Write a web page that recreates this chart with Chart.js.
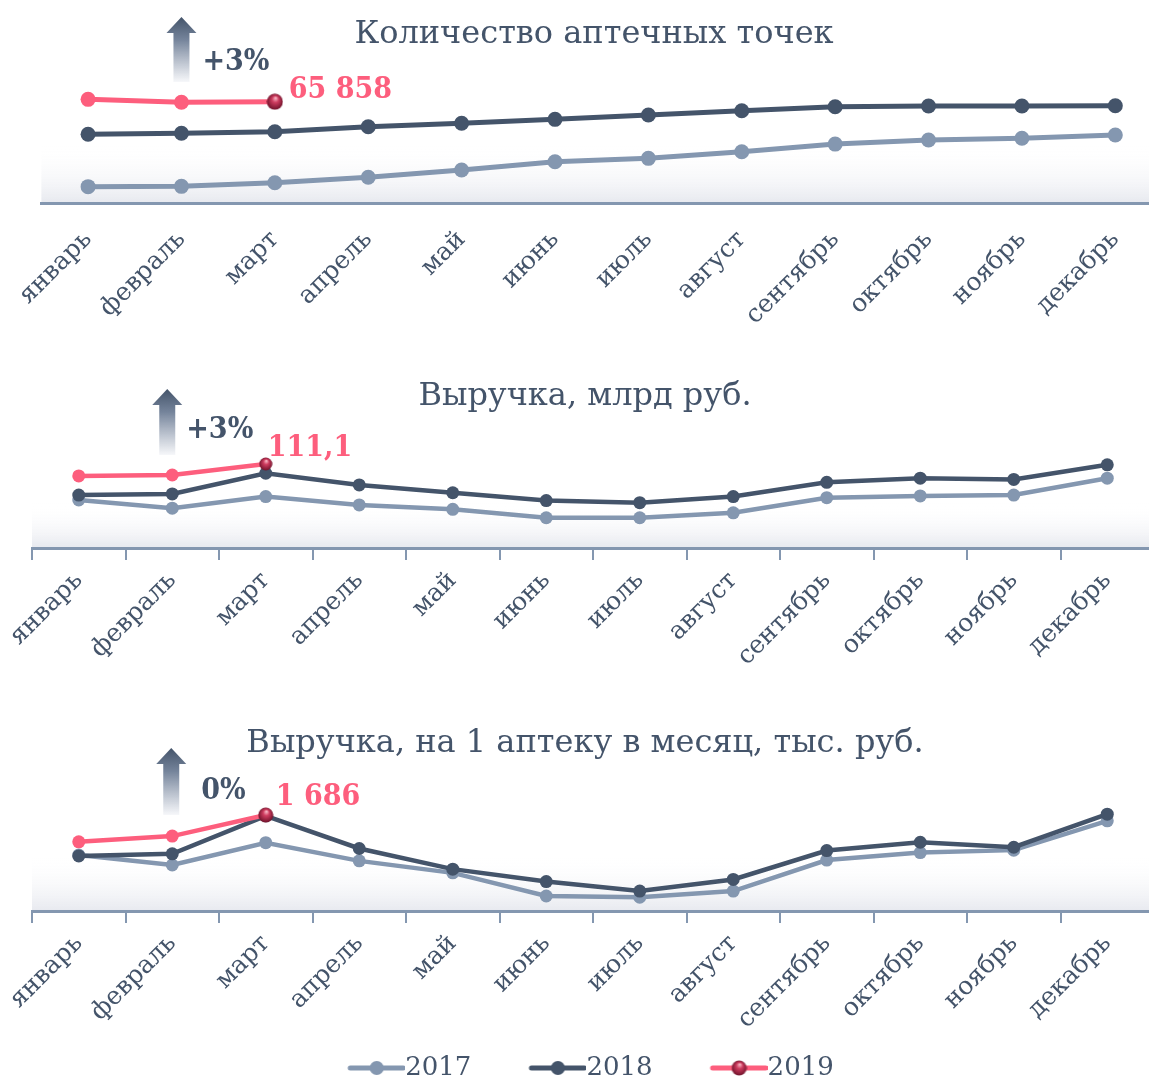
<!DOCTYPE html>
<html lang="ru">
<head>
<meta charset="utf-8">
<script src="https://cdn.jsdelivr.net/npm/chart.js@4.4.1/dist/chart.umd.min.js"></script>
<style>
    html, body { margin: 0; padding: 0; background: #fff; width: 1149px; height: 1081px; overflow: hidden; }
    canvas { position: absolute; left: 0; }
</style>
</head>
<body>
<canvas id="chartCount" width="1200" height="330" style="top:0"></canvas>
<canvas id="chartRevenue" width="1200" height="355" style="top:345px"></canvas>
<canvas id="chartPerPharmacy" width="1200" height="381" style="top:700px"></canvas>
<canvas id="chartLegend" width="1149" height="150" style="top:997px"></canvas>
<script>
// Months on the x axis
const months = ["январь", "февраль", "март", "апрель", "май", "июнь", "июль", "август", "сентябрь", "октябрь", "ноябрь", "декабрь"];
const years = ["2017", "2018", "2019"];

// Количество аптечных точек
const pharmacies2017 = [60430, 60450, 60680, 61030, 61490, 62020, 62240, 62660, 63150, 63410, 63520, 63730];
const pharmacies2018 = [63780, 63840, 63940, 64260, 64480, 64730, 65010, 65280, 65540, 65580, 65580, 65600];
const pharmacies2019 = [66010, 65820, 65858];

// Выручка, млрд руб.
const revenue2017 = [98.7, 95.9, 99.9, 97.0, 95.5, 92.6, 92.6, 94.3, 99.5, 100.1, 100.4, 106.2];
const revenue2018 = [100.4, 100.8, 107.9, 103.9, 101.2, 98.5, 97.8, 99.9, 104.8, 106.2, 105.8, 110.8];
const revenue2019 = [107.0, 107.3, 111.1];

// Выручка на 1 аптеку в месяц, тыс. руб.
const perPharmacy2017 = [1589, 1565, 1619, 1575, 1546, 1490, 1487, 1502, 1577, 1595, 1601, 1672];
const perPharmacy2018 = [1587, 1592, 1684, 1605, 1555, 1525, 1502, 1530, 1600, 1620, 1608, 1688];
const perPharmacy2019 = [1621, 1635, 1686];

// Growth labels and callouts for March 2019
const growthLabels = ["+3%", "+3%", "0%"];
const marchLabels = ["65 858", "111,1", "1 686"];
const panelTitles = ["Количество аптечных точек", "Выручка, млрд руб.", "Выручка, на 1 аптеку в месяц, тыс. руб."];

const FONT = "'DejaVu Serif', serif";
const FONT_BOLD = "'DejaVu Serif Condensed', 'DejaVu Serif', serif";
const TEXT = "#44546a";
const C2017 = "#8497b0";
const C2018 = "#44546a";
const C2019 = "#fd5e7d";
const yearColors = [C2017, C2018, C2019];

// Glossy sphere for the last 2019 point
function makeSphere(d) {
    const c = document.createElement("canvas");
    c.width = d; c.height = d;
    const g = c.getContext("2d");
    const r = d / 2;
    const grad = g.createRadialGradient(r * 1.1, r * 0.55, r * 0.05, r, r, r);
    grad.addColorStop(0, "#f8b6c4");
    grad.addColorStop(0.35, "#cf3d60");
    grad.addColorStop(1, "#6a0f27");
    g.fillStyle = grad;
    g.beginPath();
    g.arc(r, r, r - 0.5, 0, Math.PI * 2);
    g.fill();
    return c;
}

// Legend icon: line with a marker in the middle
function makeLegendIcon(color, sphere) {
    const c = document.createElement("canvas");
    c.width = 70; c.height = 20;
    const g = c.getContext("2d");
    g.strokeStyle = color;
    g.lineWidth = 5;
    g.lineCap = "round";
    g.beginPath();
    g.moveTo(15, 10);
    g.lineTo(68, 10);
    g.stroke();
    if (sphere) {
        g.drawImage(sphere, 41.5 - sphere.width / 2, 10 - sphere.height / 2);
    } else {
        g.fillStyle = color;
        g.beginPath();
        g.arc(41.5, 10, 7, 0, Math.PI * 2);
        g.fill();
    }
    return c;
}

const panelDecor = {
    id: "panelDecor",
    beforeDraw(chart, args, opts) {
        const { ctx, chartArea: a } = chart;
        const top = a.bottom - opts.shade;
        const g = ctx.createLinearGradient(0, top, 0, a.bottom);
        g.addColorStop(0, "rgba(255,255,255,0)");
        g.addColorStop(1, "#e7e9ef");
        ctx.save();
        ctx.fillStyle = g;
        ctx.fillRect(a.left, top, a.right - a.left, opts.shade);
        ctx.restore();
    },
    afterDraw(chart, args, opts) {
        const { ctx } = chart;
        const xs = chart.scales.x;
        ctx.save();

        // Title
        ctx.font = `${opts.titleSize}px ${FONT}`;
        ctx.fillStyle = TEXT;
        ctx.textAlign = "center";
        ctx.textBaseline = "alphabetic";
        ctx.fillText(opts.title, opts.titleX, opts.titleY);

        // Arrow above February
        const cx = xs.getPixelForValue(1) + opts.arrowDx;
        const t = opts.arrowTop, b = opts.arrowBottom;
        const grad = ctx.createLinearGradient(0, t, 0, b);
        grad.addColorStop(0, "#44546a");
        grad.addColorStop(0.35, "#75849b");
        grad.addColorStop(1, "rgba(245,246,249,0.9)");
        ctx.fillStyle = grad;
        ctx.beginPath();
        ctx.moveTo(cx, t);
        ctx.lineTo(cx + 15, t + 16);
        ctx.lineTo(cx + 8, t + 16);
        ctx.lineTo(cx + 8, b);
        ctx.lineTo(cx - 8, b);
        ctx.lineTo(cx - 8, t + 16);
        ctx.lineTo(cx - 15, t + 16);
        ctx.closePath();
        ctx.fill();

        // Growth percent
        ctx.textAlign = "left";
        ctx.font = `bold ${opts.labelSize}px ${FONT_BOLD}`;
        ctx.fillStyle = TEXT;
        ctx.fillText(opts.growth, xs.getPixelForValue(1) + opts.growthDx, opts.growthY);

        // March 2019 value
        const pt = chart.getDatasetMeta(0).data[2];
        ctx.fillStyle = C2019;
        ctx.fillText(opts.value, pt.x + opts.valueDx, pt.y + opts.valueDy);
        ctx.restore();
    }
};

function buildPanel(canvasId, d2017, d2018, d2019, p) {
    const sphere = makeSphere(p.sphere);
    const line = (label, data, color, order) => ({
        label: label,
        data: data,
        borderColor: color,
        backgroundColor: color,
        borderWidth: p.lineWidth,
        pointRadius: p.radius,
        pointBorderWidth: 0,
        pointBackgroundColor: color,
        pointStyle: (ctx) => (label === "2019" && ctx.dataIndex === 2 ? sphere : "circle"),
        tension: 0,
        order: order,
    });

    return new Chart(document.getElementById(canvasId), {
        type: "line",
        data: {
            labels: months,
            datasets: [
                line("2019", d2019, C2019, 0),
                line("2018", d2018, C2018, 1),
                line("2017", d2017, C2017, 2),
            ],
        },
        options: {
            responsive: false,
            animation: false,
            devicePixelRatio: 1,
            layout: { padding: { left: p.left, right: 1200 - p.right, top: p.top, bottom: 0 } },
            events: [],
            scales: {
                x: {
                    offset: true,
                    border: { display: true, color: C2017, width: 3 },
                    grid: {
                        display: p.ticks,
                        drawOnChartArea: false,
                        drawTicks: p.ticks,
                        tickLength: 12,
                        color: C2017,
                        lineWidth: 2,
                        offset: true,
                    },
                    ticks: {
                        autoSkip: false,
                        minRotation: 45,
                        maxRotation: 45,
                        padding: p.tickPadding,
                        color: TEXT,
                        font: { family: FONT, size: 25 },
                    },
                    afterFit: (scale) => { scale.height = p.axisHeight; },
                },
                y: { display: false, min: p.min, max: p.max },
            },
            plugins: {
                legend: { display: false },
                tooltip: { enabled: false },
                panelDecor: p.decor,
            },
        },
        plugins: [panelDecor],
    });
}

buildPanel("chartCount", pharmacies2017, pharmacies2018, pharmacies2019, {
    left: 41, right: 1162, top: 40, axisHeight: 127, ticks: false, tickPadding: 22,
    min: 59385, max: 69801, lineWidth: 5, radius: 7.5, sphere: 17,
    decor: {
        shade: 58, title: panelTitles[0], titleSize: 32, titleX: 594, titleY: 43,
        arrowDx: 0, arrowTop: 17, arrowBottom: 82,
        growth: growthLabels[0], growthDx: 21, growthY: 70, labelSize: 30,
        value: marchLabels[0], valueDx: 14, valueDy: -4,
    },
});

buildPanel("chartRevenue", revenue2017, revenue2018, revenue2019, {
    left: 32, right: 1154, top: 55, axisHeight: 152, ticks: true, tickPadding: 6,
    min: 82.2, max: 133.1, lineWidth: 4.5, radius: 6.5, sphere: 14,
    decor: {
        shade: 45, title: panelTitles[1], titleSize: 32, titleX: 585, titleY: 60,
        arrowDx: -5, arrowTop: 44, arrowBottom: 110,
        growth: growthLabels[1], growthDx: 14, growthY: 93, labelSize: 30,
        value: marchLabels[1], valueDx: 2, valueDy: -8,
    },
});

buildPanel("chartPerPharmacy", perPharmacy2017, perPharmacy2018, perPharmacy2019, {
    left: 32, right: 1154, top: 60, axisHeight: 170, ticks: true, tickPadding: 6,
    min: 1453.7, max: 1819.1, lineWidth: 4.5, radius: 6.5, sphere: 16,
    decor: {
        shade: 55, title: panelTitles[2], titleSize: 32, titleX: 585, titleY: 52,
        arrowDx: -1, arrowTop: 48, arrowBottom: 115,
        growth: growthLabels[2], growthDx: 29, growthY: 99, labelSize: 30,
        value: marchLabels[2], valueDx: 10, valueDy: -10,
    },
});

// Shared legend for the three panels
new Chart(document.getElementById("chartLegend"), {
    type: "line",
    data: {
        datasets: years.map((y, i) => ({ label: y, data: [], borderColor: yearColors[i], backgroundColor: yearColors[i] })),
    },
    options: {
        responsive: false,
        animation: false,
        devicePixelRatio: 1,
        events: [],
        layout: { padding: { left: 33, right: 0, top: 0, bottom: 0 } },
        scales: { x: { display: false }, y: { display: false } },
        plugins: {
            tooltip: { enabled: false },
            legend: {
                display: true,
                position: "top",
                maxHeight: 130,
                labels: {
                    usePointStyle: true,
                    pointStyleWidth: 44,
                    padding: 58,
                    color: TEXT,
                    font: { family: FONT, size: 26 },
                    generateLabels: (chart) => chart.data.datasets.map((ds, i) => ({
                        text: ds.label,
                        fontColor: TEXT,
                        pointStyle: makeLegendIcon(ds.borderColor, i === 2 ? makeSphere(16) : null),
                        lineWidth: 0,
                        strokeStyle: "transparent",
                        fillStyle: "transparent",
                        datasetIndex: i,
                    })),
                },
            },
        },
    },
});
</script>
</body>
</html>
